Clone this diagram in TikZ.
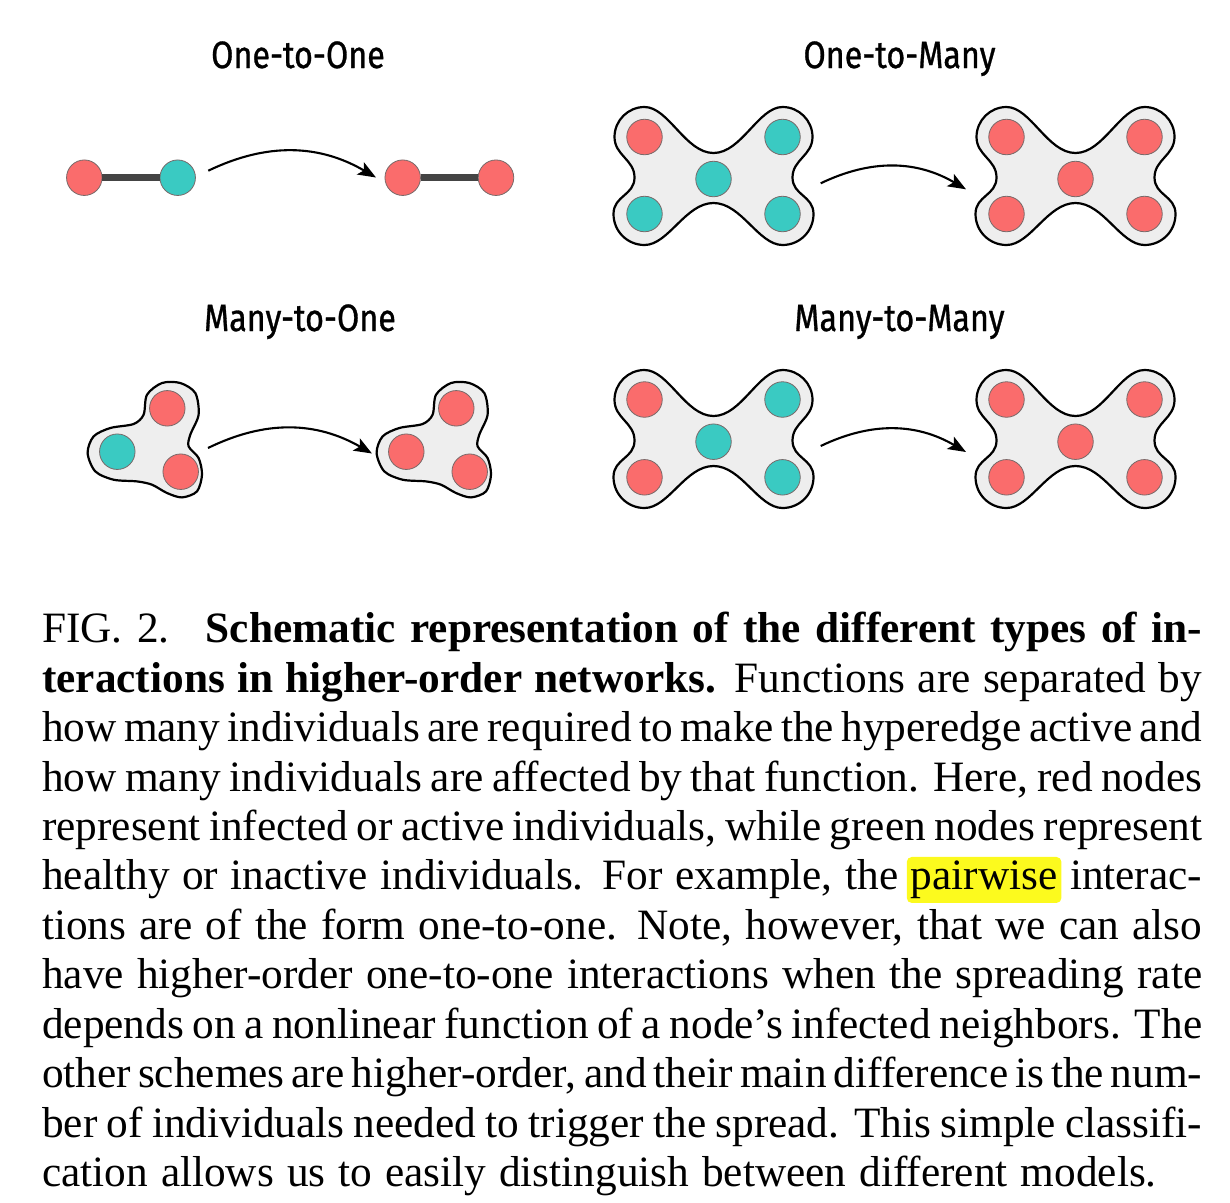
\documentclass[tikz,border=0pt]{standalone}
\usepackage{fontspec}
\setmainfont{Liberation Serif}
\newfontfamily\titlefont[FakeStretch=0.85,FakeBold=0.8]{Fira Sans}
\usetikzlibrary{arrows.meta}
\definecolor{nred}{RGB}{250,108,108}
\definecolor{nteal}{RGB}{58,202,194}
\definecolor{blobfill}{RGB}{238,238,238}
\definecolor{nedge}{RGB}{120,105,105}
\definecolor{pairgray}{RGB}{68,68,68}
\definecolor{hlyellow}{RGB}{252,250,30}
\newsavebox\hlbox
\newlength\hlwid
\newcommand\hlword[1]{\sbox\hlbox{#1}\setlength\hlwid{\wd\hlbox}\addtolength\hlwid{8pt}%
  \rlap{\hspace{-4pt}\tikz[baseline=0pt]\fill[hlyellow,rounded corners=5pt] (0pt,-13pt) rectangle (\hlwid,33pt);}\usebox\hlbox}
\newcommand\capspace{\spaceskip=0.3em plus 0.3em minus 0.2em
  \xspaceskip=0.45em plus 0.4em minus 0.25em\relax}
\newcommand\fl[1]{\makebox[1160pt][s]{#1}}
\begin{document}
\begin{tikzpicture}[x=1pt,y=-1pt,
  vtx/.style={circle,draw=nedge,line width=0.8pt,minimum size=35.5pt,inner sep=0pt},
  rnode/.style={vtx,fill=nred},
  gnode/.style={vtx,fill=nteal},
  blob/.style={draw=black,line width=2.2pt,fill=blobfill},
  pairedge/.style={draw=pairgray,line width=7pt},
  arr/.style={-{Stealth[length=18pt,width=14pt,inset=4pt]},line width=2.1pt,bend left=28},
  ttl/.style={anchor=base,inner sep=0pt,font=\titlefont\fontsize{38}{40}\selectfont},
  captext/.style={anchor=base west,inner sep=0pt,text width=1160pt,align=left,font=\fontsize{43.3}{49.45}\selectfont},
  xblob/.pic={\path[blob] (0,-22.5) .. controls (28,-22.5) and (45,-68.5) .. (69,-68.5)
     .. controls (85.5,-68.5) and (99,-55) .. (99,-38.5)
     .. controls (99,-20) and (79,-16) .. (79,2)
     .. controls (79,20) and (100,20) .. (100,38.5)
     .. controls (100,56) and (86,69.5) .. (69,69.5)
     .. controls (45,69.5) and (28,27.5) .. (0,27.5)
     .. controls (-28,27.5) and (-45,69.5) .. (-69,69.5)
     .. controls (-86,69.5) and (-100,56) .. (-100,38.5)
     .. controls (-100,20) and (-79,20) .. (-79,2)
     .. controls (-79,-16) and (-99,-20) .. (-99,-38.5)
     .. controls (-99,-55) and (-85.5,-68.5) .. (-69,-68.5)
     .. controls (-45,-68.5) and (-28,-22.5) .. (0,-22.5) -- cycle;},
  tblob/.pic={\path[blob] plot[smooth cycle] coordinates {
     (-29.7,1.3) (-23.7,-15.3) (-7,-23.7) (16.3,-27.7) (26.3,-37) (29.7,-57)
     (44.7,-68.7) (63,-68.7) (78,-58.7) (81.3,-37) (73,-17) (71.3,-5.3)
     (81.3,6.3) (84.7,23) (79.7,39.7) (64.7,45.7) (49.7,41.3) (34.7,33)
     (19.7,29.7) (-3.7,28) (-22,19.7)};}
]
\useasboundingbox (0,0) rectangle (1230,1202);

% ---- titles
\node[ttl] (t1) at (298,68) {One-to-One};
\node[ttl] (t2) at (899.5,68) {One-to-Many};
\node[ttl] (t3) at (300,331) {Many-to-One};
\node[ttl] (t4) at (899.5,331) {Many-to-Many};

% ---- One-to-One
\node[rnode] (a1) at (84.3,177.7) {};
\node[gnode] (a2) at (177.7,177.7) {};
\node[rnode] (a3) at (402.7,177.7) {};
\node[rnode] (a4) at (496,177.7) {};
\draw[pairedge] (a1) -- (a2);
\draw[pairedge] (a3) -- (a4);
\coordinate (s1) at (208.3,170.7);
\coordinate (e1) at (376,177.5);
\draw[arr] (s1) to (e1);

% ---- One-to-Many
\pic at (713.5,175.5) {xblob};
\pic at (1075.5,175.5) {xblob};
\node[rnode] (b1) at (644.5,137) {};
\node[gnode] (b2) at (782.5,137) {};
\node[gnode] (b3) at (713.5,179) {};
\node[gnode] (b4) at (644.5,214) {};
\node[gnode] (b5) at (782.5,214) {};
\node[rnode] (c1) at (1006.5,137) {};
\node[rnode] (c2) at (1144.5,137) {};
\node[rnode] (c3) at (1075.5,179) {};
\node[rnode] (c4) at (1006.5,214) {};
\node[rnode] (c5) at (1144.5,214) {};
\coordinate (s2) at (820.7,183.3);
\coordinate (e2) at (966,189.3);
\draw[arr] (s2) to (e2);

% ---- Many-to-One
\pic at (117.3,451.7) {tblob};
\pic at (406.3,451.7) {tblob};
\node[gnode] (d1) at (117.3,451.7) {};
\node[rnode] (d2) at (167.3,408.3) {};
\node[rnode] (d3) at (180.7,471.7) {};
\node[rnode] (f1) at (406.3,451.7) {};
\node[rnode] (f2) at (456.3,408.3) {};
\node[rnode] (f3) at (469.7,471.7) {};
\coordinate (s3) at (208,448);
\coordinate (e3) at (372,453.5);
\draw[arr] (s3) to (e3);

% ---- Many-to-Many
\pic at (713.5,438.5) {xblob};
\pic at (1075.5,438.5) {xblob};
\node[rnode] (g1) at (644.5,399.5) {};
\node[gnode] (g2) at (782.5,399.5) {};
\node[gnode] (g3) at (713.5,441.7) {};
\node[rnode] (g4) at (644.5,477.3) {};
\node[gnode] (g5) at (782.5,477.3) {};
\node[rnode] (h1) at (1006.5,399.5) {};
\node[rnode] (h2) at (1144.5,399.5) {};
\node[rnode] (h3) at (1075.5,441.7) {};
\node[rnode] (h4) at (1006.5,477.3) {};
\node[rnode] (h5) at (1144.5,477.3) {};
\coordinate (s4) at (820.7,446);
\coordinate (e4) at (966,452);
\draw[arr] (s4) to (e4);

% ---- caption
\node[captext] (cap) at (42,642.7) {\capspace
\fl{FIG. 2. \ \textbf{Schematic representation of the different types of in-}}\\
\fl{\textbf{teractions in higher-order networks.} Functions are separated by}\\
\fl{how many individuals are required to make the hyperedge active and}\\
\fl{how many individuals are affected by that function. Here, red nodes}\\
\fl{represent infected or active individuals, while green nodes represent}\\
\fl{healthy or inactive individuals. For example, the \hlword{pairwise} interac-}\\
\fl{tions are of the form one-to-one. Note, however, that we can also}\\
\fl{have higher-order one-to-one interactions when the spreading rate}\\
\fl{depends on a nonlinear function of a node’s infected neighbors. The}\\
\fl{other schemes are higher-order, and their main difference is the num-}\\
\fl{ber of individuals needed to trigger the spread. This simple classifi-}\\
cation allows us to easily distinguish between different models.};
\end{tikzpicture}
\end{document}
